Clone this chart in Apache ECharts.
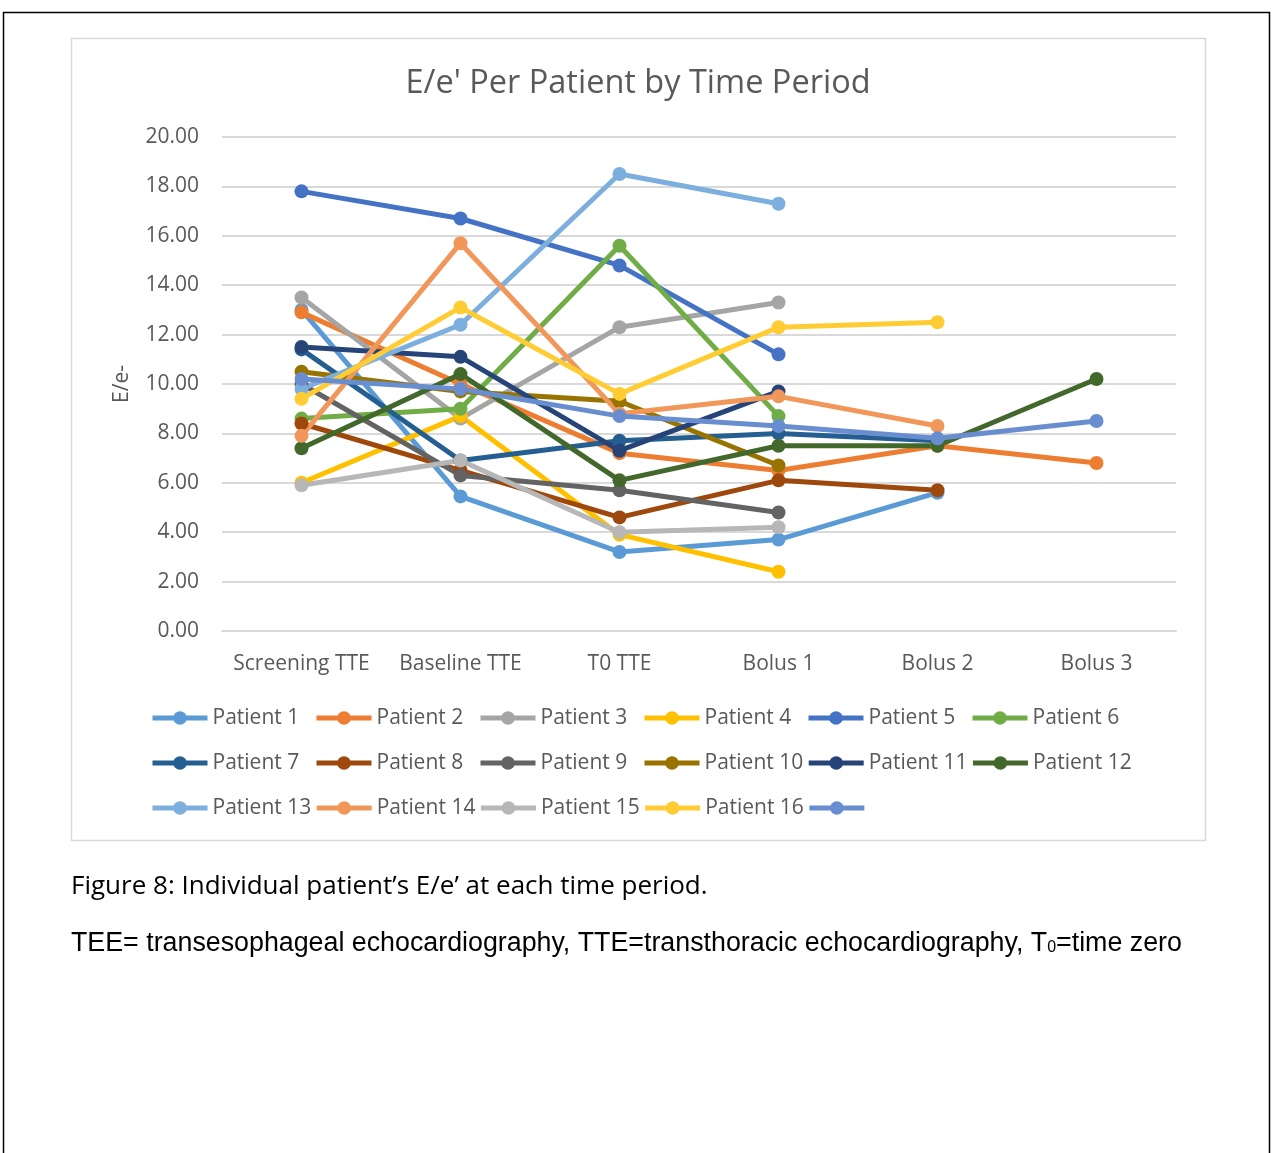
<!DOCTYPE html>
<html>
<head>
<meta charset="utf-8">
<title>E/e' Per Patient by Time Period</title>
<script src="https://cdn.jsdelivr.net/npm/echarts@6/dist/echarts.min.js"></script>
<style>
  html, body { margin: 0; padding: 0; background: #fff; }
  #chart { width: 1273px; height: 1153px; }
</style>
</head>
<body>
<div id="chart"></div>
<script>
// time periods on the x axis
var periods = ['Screening TTE', 'Baseline TTE', 'T0 TTE', 'Bolus 1', 'Bolus 2', 'Bolus 3'];

var patient1  = [13.0, 5.45, 3.2, 3.7, 5.6, null];
var patient2  = [12.9, 10.0, 7.2, 6.5, 7.5, 6.8];
var patient3  = [13.5, 8.6, 12.3, 13.3, null, null];
var patient4  = [6.0, 8.7, 3.9, 2.4, null, null];
var patient5  = [17.8, 16.7, 14.8, 11.2, null, null];
var patient6  = [8.6, 9.0, 15.6, 8.7, null, null];
var patient7  = [11.4, 6.9, 7.7, 8.0, 7.7, null];
var patient8  = [8.4, 6.5, 4.6, 6.1, 5.7, null];
var patient9  = [10.0, 6.3, 5.7, 4.8, null, null];
var patient10 = [10.5, 9.7, 9.3, 6.7, null, null];
var patient11 = [11.5, 11.1, 7.3, 9.7, null, null];
var patient12 = [7.4, 10.4, 6.1, 7.5, 7.5, 10.2];
var patient13 = [9.8, 12.4, 18.5, 17.3, null, null];
var patient14 = [7.9, 15.7, 8.8, 9.5, 8.3, null];
var patient15 = [5.9, 6.9, 4.0, 4.2, null, null];
var patient16 = [9.4, 13.1, 9.6, 12.3, 12.5, null];
var unnamed17 = [10.2, 9.8, 8.7, 8.3, 7.8, 8.5];

var seriesNames = ['Patient 1', 'Patient 2', 'Patient 3', 'Patient 4', 'Patient 5', 'Patient 6',
  'Patient 7', 'Patient 8', 'Patient 9', 'Patient 10', 'Patient 11', 'Patient 12',
  'Patient 13', 'Patient 14', 'Patient 15', 'Patient 16', ' '];
var seriesData = [patient1, patient2, patient3, patient4, patient5, patient6, patient7, patient8,
  patient9, patient10, patient11, patient12, patient13, patient14, patient15, patient16, unnamed17];

// office palette
var colors = ['#5B9BD5', '#ED7D31', '#A5A5A5', '#FFC000', '#4472C4', '#70AD47',
  '#255E91', '#9E480E', '#636363', '#997300', '#264478', '#43682B',
  '#7CAFDD', '#F1975A', '#B7B7B7', '#FFCD33', '#698ED0'];

var font = '"Open Sans", Lato, sans-serif';
var arial = '"Liberation Sans", Arial, sans-serif';

var chart = echarts.init(document.getElementById('chart'));

var series = seriesNames.map(function (name, i) {
  return {
    name: name,
    type: 'line',
    data: seriesData[i],
    symbol: 'circle',
    symbolSize: 14,
    showAllSymbol: true,
    connectNulls: false,
    lineStyle: { width: 5, color: colors[i] },
    itemStyle: { color: colors[i] },
    emphasis: { disabled: true }
  };
});

chart.setOption({
  animation: false,
  color: colors,
  title: {
    text: "E/e' Per Patient by Time Period",
    left: 633,
    textAlign: 'center',
    top: 62,
    textStyle: { fontFamily: font, fontSize: 32.5, fontWeight: 'normal', color: '#595959' }
  },
  grid: { left: 222, right: 97, top: 137, height: 494 },
  xAxis: {
    type: 'category',
    data: periods,
    boundaryGap: true,
    axisLine: { lineStyle: { color: '#D9D9D9', width: 2 } },
    axisTick: { show: false },
    axisLabel: { color: '#595959', fontFamily: font, fontSize: 21, margin: 23, interval: 0 }
  },
  yAxis: {
    type: 'value',
    min: 0,
    max: 20,
    interval: 2,
    name: 'E/e-',
    nameLocation: 'middle',
    nameGap: 89,
    nameTextStyle: { color: '#595959', fontFamily: font, fontSize: 21 },
    axisLine: { show: false },
    axisTick: { show: false },
    axisLabel: {
      color: '#595959', fontFamily: font, fontSize: 21, margin: 23,
      formatter: function (v) { return v.toFixed(2); }
    },
    splitLine: { lineStyle: { color: '#D9D9D9', width: 2 } }
  },
  legend: {
    data: seriesNames,
    left: 150,
    top: 697,
    padding: 0,
    width: 1000,
    itemWidth: 55,
    itemHeight: 17,
    itemGap: 3,
    lineStyle: { width: 5 },
    textStyle: { color: '#595959', fontFamily: font, fontSize: 21, width: 98.5, height: 42, lineHeight: 42 }
  },
  graphic: [
    {
      type: 'rect', silent: true, z: -10,
      shape: { x: 3.5, y: 12.5, width: 1266, height: 1150 },
      style: { fill: '#fff', stroke: '#000', lineWidth: 1.5 }
    },
    {
      type: 'rect', silent: true, z: -9,
      shape: { x: 71.5, y: 38.5, width: 1134, height: 802 },
      style: { fill: '#fff', stroke: '#D9D9D9', lineWidth: 1.5 }
    },
    {
      type: 'text', left: 71, top: 874,
      style: { text: 'Figure 8: Individual patient\u2019s E/e\u2019 at each time period.', fill: '#000',
        font: '26px ' + font }
    },
    {
      type: 'text', left: 71, top: 930,
      style: {
        text: '{a|TEE= transesophageal echocardiography, TTE=transthoracic echocardiography, T}{s|0}{a|=time zero}',
        rich: {
          a: { fill: '#000', fontFamily: arial, fontSize: 26.8 },
          s: { fill: '#000', fontFamily: arial, fontSize: 16, padding: [9, 0, 0, 0] }
        }
      }
    }
  ],
  series: series
});
</script>
</body>
</html>
